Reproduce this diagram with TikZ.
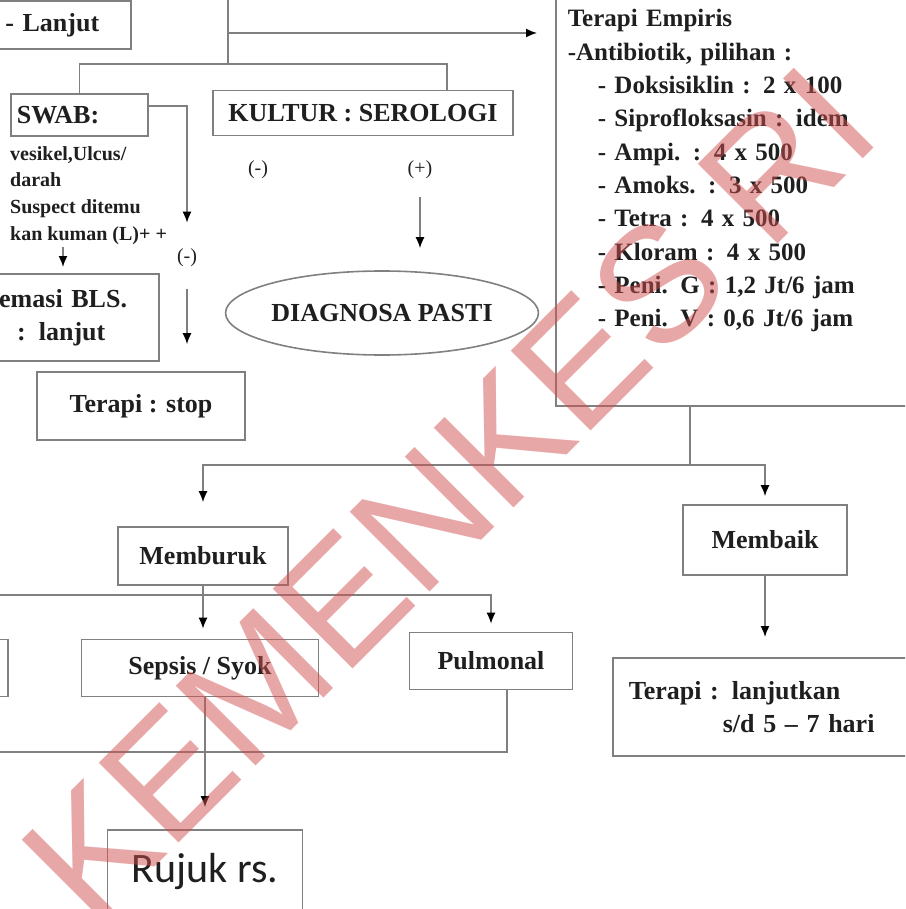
\documentclass[tikz,border=0pt]{standalone}
\usepackage{fontspec}
\setmainfont{Liberation Serif}
\newfontfamily\rujukfont{Carlito}
\newfontfamily\markfont{Liberation Sans}
\usetikzlibrary{arrows.meta,shapes.geometric,positioning}
\definecolor{scanline}{gray}{0.5}
\definecolor{scanink}{gray}{0.12}
\definecolor{markred}{RGB}{210,80,80}
\begin{document}
\begin{tikzpicture}[x=1pt,y=-1pt,
  box/.style={draw=scanline, line width=1.6pt, inner sep=0pt, text=scanink, font=\fontsize{26}{33}\selectfont\bfseries},
  small/.style={inner sep=0pt, text=scanink, font=\fontsize{20}{26.7}\selectfont\bfseries},
  sign/.style={inner sep=0pt, text=scanink, font=\fontsize{20}{24}\selectfont},
  wire/.style={draw=scanline, line width=1.6pt},
  arr/.style={wire, -{Latex[length=11pt,width=9pt,color=black]}}]
\useasboundingbox (0,0) rectangle (905,909);
\begin{scope}
\clip (0,0) rectangle (905,909);
% upper boxes
\node[box, anchor=south east, text width=110pt, align=right, inner xsep=32pt, minimum height=48pt] (lanjut) at (132,50) {- Lanjut};
\node[box, anchor=north west, text width=125pt, align=left, inner xsep=6pt, minimum height=42pt] (swab) at (10,93) {SWAB:};
\node[small, anchor=north west, align=left] (swabtxt) at (10,146) {vesikel,Ulcus/\\ darah\\ Suspect ditemu\\ kan kuman (L)+ +};
\node[box, minimum width=300pt, minimum height=45pt] (kultur) at (363,113) {KULTUR : SEROLOGI};
\node[box, anchor=north west, minimum width=420pt, minimum height=470pt, text width=396pt, align=left, inner xsep=12pt, font=\fontsize{25}{33.3}\selectfont\bfseries] (empiris) at (555,-65) {Terapi Empiris\\ -Antibiotik, pilihan :\\ \hspace*{30pt}- Doksisiklin : 2 x 100\\ \hspace*{30pt}- Siprofloksasin : idem\\ \hspace*{30pt}- Ampi. : 4 x 500\\ \hspace*{30pt}- Amoks. : 3 x 500\\ \hspace*{30pt}- Tetra : 4 x 500\\ \hspace*{30pt}- Kloram : 4 x 500\\ \hspace*{30pt}- Peni. G : 1,2 Jt/6 jam\\ \hspace*{30pt}- Peni. V : 0,6 Jt/6 jam};
\node[sign] (kneg) at (258,170) {(-)};
\node[sign] (kpos) at (420,170) {(+)};
\node[sign] (sneg) at (187,258) {(-)};
\node[box, ellipse, minimum width=300pt, minimum height=84pt] (diag) at (382,313) {DIAGNOSA PASTI};
\node[box, anchor=north east, text width=140pt, align=left, inner xsep=20pt, minimum height=87pt] (evalbls) at (160,273) {emasi BLS.\\ \hspace*{18pt}: lanjut};
\node[box, minimum width=208pt, minimum height=68pt] (stop) at (141,406) {Terapi : stop};
% lower boxes
\node[box, minimum width=170pt, minimum height=58pt] (memburuk) at (203,556) {Memburuk};
\node[box, minimum width=164pt, minimum height=70pt] (membaik) at (765,540) {Membaik};
\node[box, anchor=east, minimum width=100pt, minimum height=57pt] (lcut) at (9,668) {};
\node[box, minimum width=237pt, minimum height=57pt] (sepsis) at (200,668) {Sepsis / Syok};
\node[box, minimum width=163pt, minimum height=57pt] (pulmonal) at (491,661) {Pulmonal};
\node[box, anchor=north west, text width=270pt, align=left, inner xsep=16pt, minimum height=98pt] (lanjutkan) at (612,657) {Terapi : lanjutkan\\ \hspace*{94pt}s/d 5 -- 7 hari};
\node[box, font=\rujukfont\fontsize{42}{50}\selectfont, minimum width=195pt, minimum height=84pt] (rujuk) at (205,872) {Rujuk rs.};
% connectors, top
\coordinate (ttop) at (228,-5); % trunk top
\coordinate (tjoin) at (228,64); % trunk split
\coordinate (tarr) at (228,33); % branch to empiris
\coordinate (evaltop) at (63,273);
\draw[wire] (ttop) -- (tjoin);
\draw[wire] (tjoin) -| (swab.north);
\draw[wire] (tjoin) -| ([xshift=84pt]kultur.north);
\draw[arr, shorten >=18pt] (tarr) -- (tarr -| empiris.west);
\draw[arr, shorten >=26pt] ([yshift=9pt]swab.east) -| (sneg.north);
\draw[arr, shorten <=22pt, shorten >=27pt] (sneg.south) -- (sneg.south |- stop.north);
\draw[arr, shorten <=2pt, shorten >=6pt] (swabtxt.south -| evaltop) -- (evaltop);
\draw[arr, shorten <=18pt, shorten >=22pt] (kpos.south) -- (kpos.south |- diag.north);
% connectors, bottom
\coordinate (bjoin) at (690,465); % split under empiris
\coordinate (mjoin) at (203,595); % split under memburuk
\coordinate (mleft) at (-10,595);
\coordinate (sjoin) at (205,752); % join over rujuk
\coordinate (sleft) at (-10,752);
\draw[wire] (bjoin |- empiris.south) -- (bjoin);
\draw[arr, shorten >=24pt] (bjoin) -| (memburuk.north);
\draw[arr, shorten >=8pt] (bjoin) -| (membaik.north);
\draw[wire] (memburuk.south) -- (mjoin);
\draw[wire] (mleft) -- (mjoin);
\draw[arr, shorten >=10pt] (mjoin) -- (mjoin |- sepsis.north);
\draw[arr, shorten >=8pt] (mjoin) -| (pulmonal.north);
\draw[wire] (sepsis.south -| sjoin) -- (sjoin);
\draw[wire] ([xshift=16pt]pulmonal.south) |- (sjoin);
\draw[wire] (sleft) -- (sjoin);
\draw[arr, shorten >=22pt] (sjoin) -- (rujuk.north -| sjoin);
\draw[arr, shorten >=20pt] (membaik.south) -- (membaik.south |- lanjutkan.north);
% watermark
\node[anchor=base west, rotate=45, inner sep=0pt, text=markred, opacity=0.5, font=\markfont\fontsize{164}{164}\selectfont] (wmark) at (92,930) {KEMENKES RI};
\end{scope}
\end{tikzpicture}
\end{document}
